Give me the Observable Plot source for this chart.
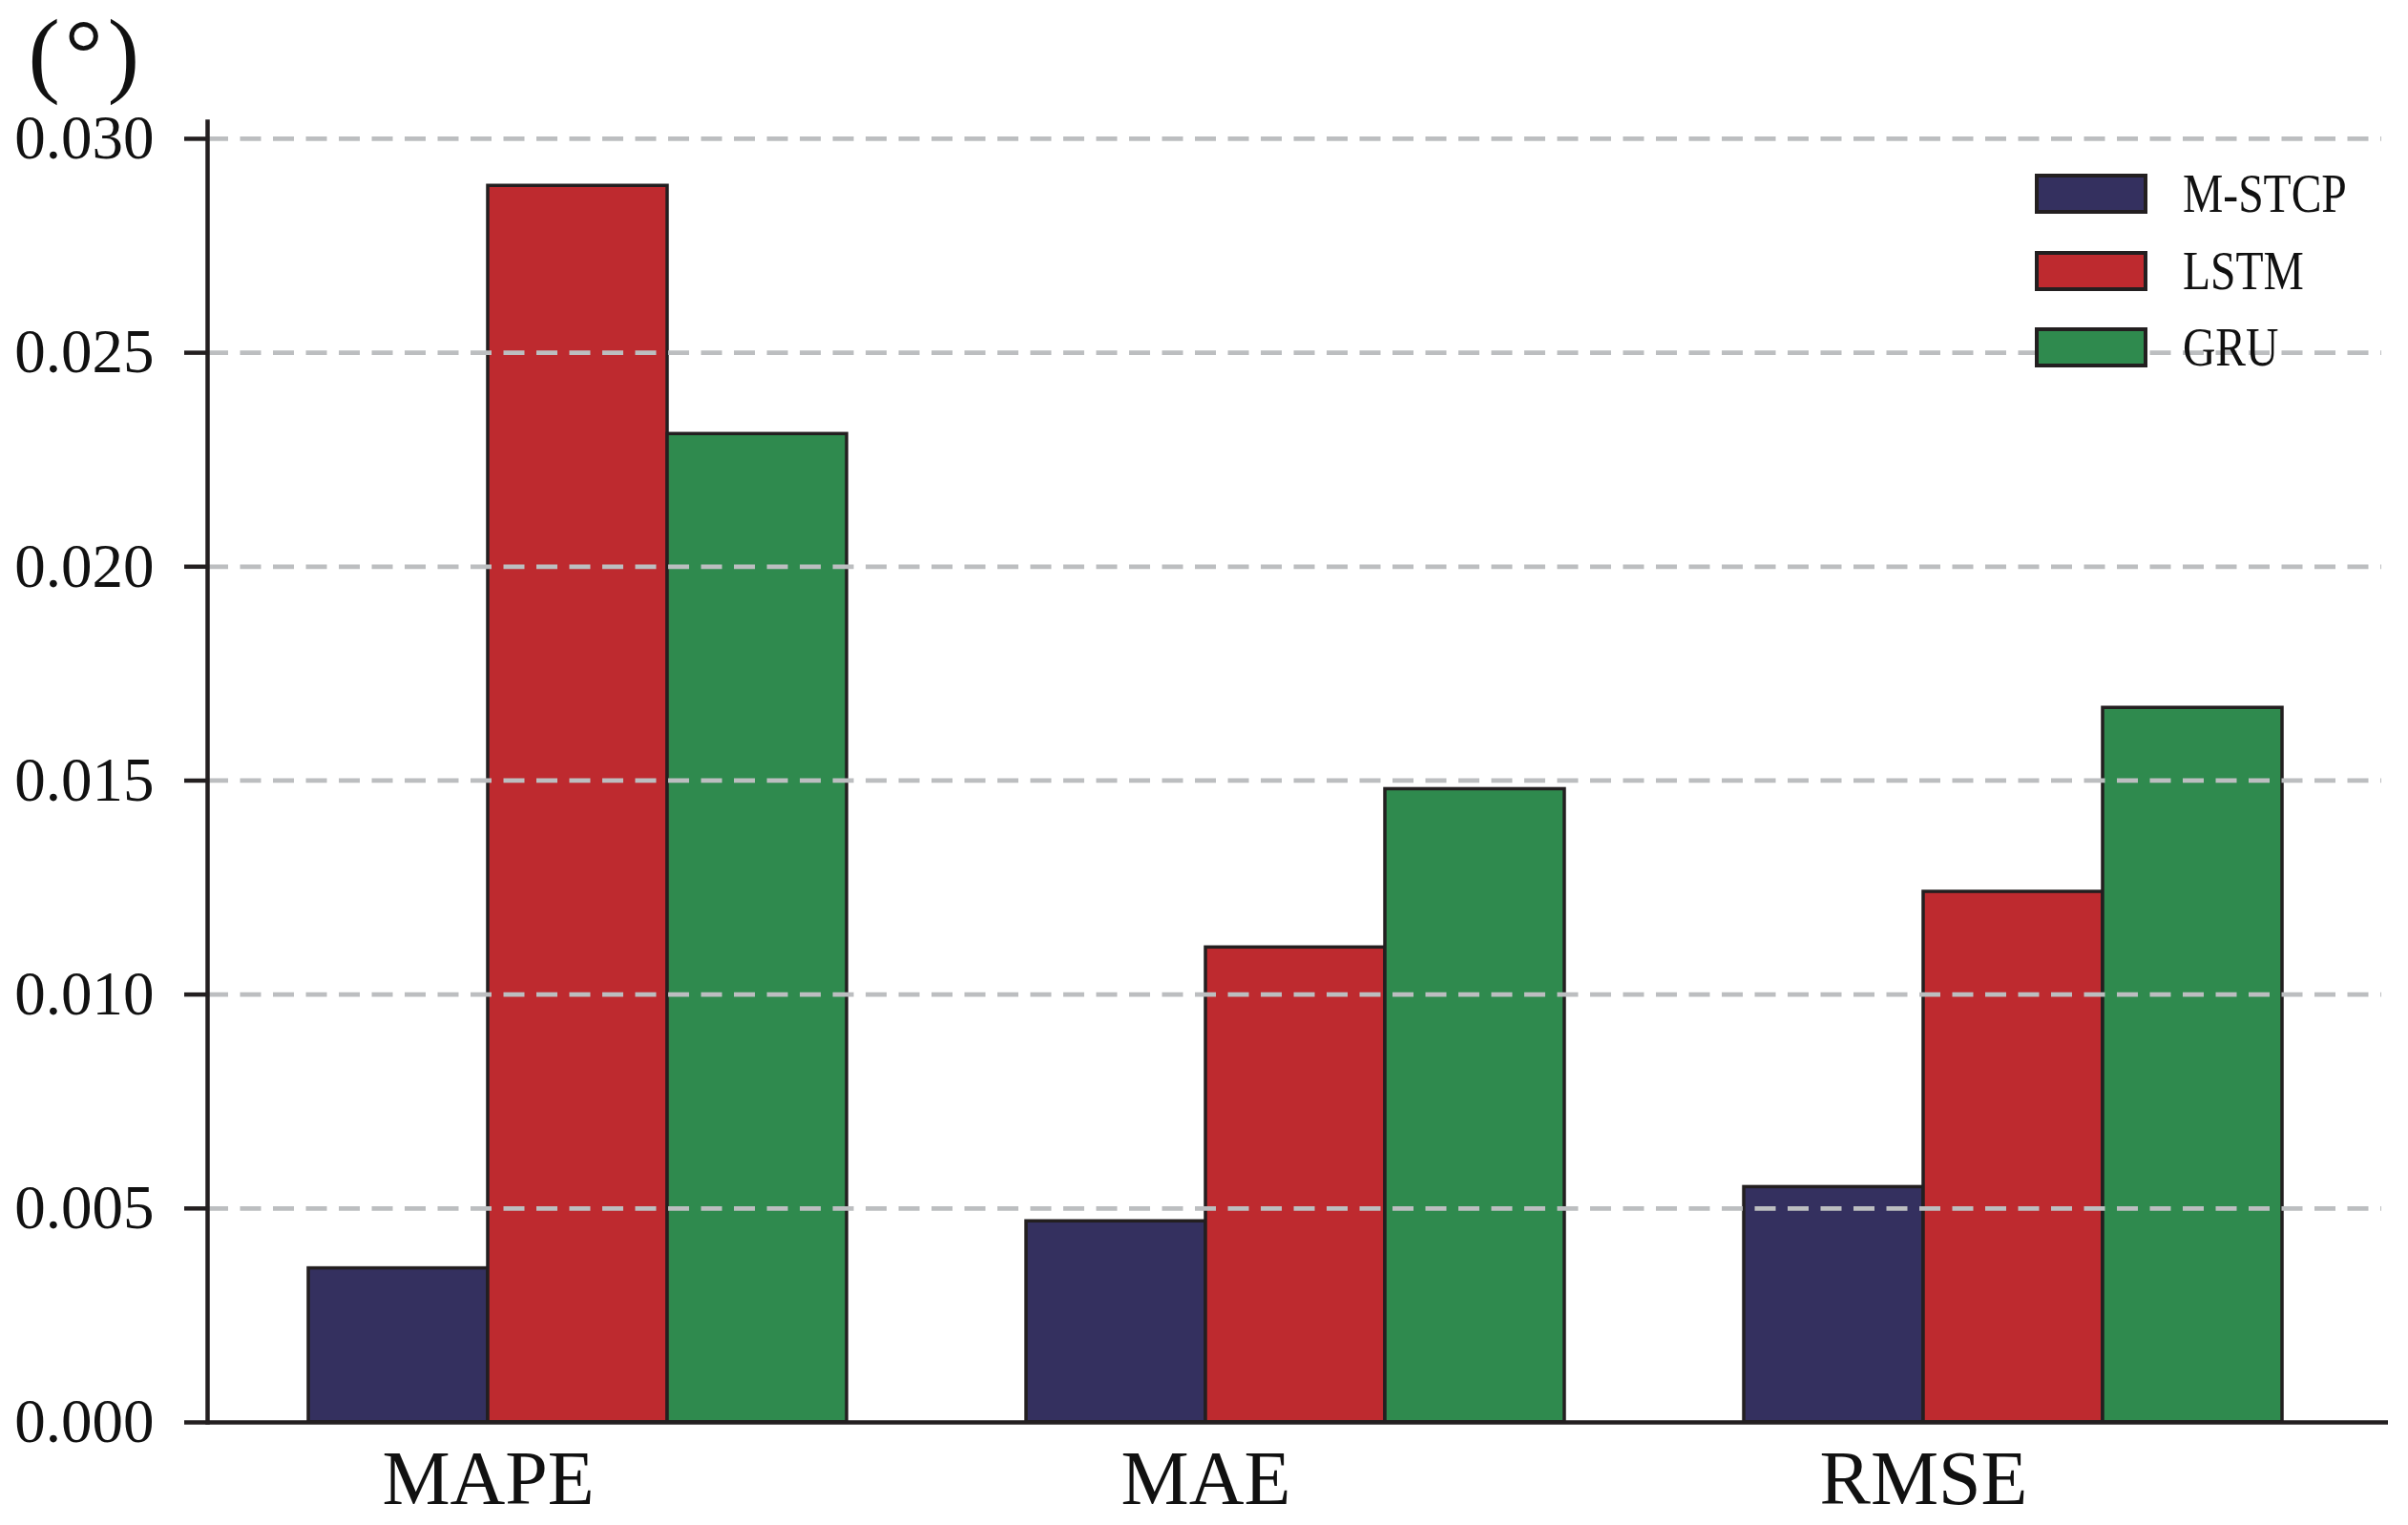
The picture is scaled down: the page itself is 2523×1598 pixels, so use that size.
<!DOCTYPE html>
<html>
<head>
<meta charset="utf-8">
<script src="https://cdn.jsdelivr.net/npm/d3@7"></script>
<script src="https://cdn.jsdelivr.net/npm/@observablehq/plot@0.6"></script>
<style>
  html, body { margin: 0; padding: 0; background: #fff; }
  #wrap { position: relative; width: 2523px; height: 1598px; font-family: "Liberation Serif", "Times New Roman", serif; }
  #legend { position: absolute; left: 2132px; top: 182px; }
  .row { display: flex; align-items: center; height: 42px; margin-bottom: 38.5px; }
  .sw { width: 118px; height: 42px; box-sizing: border-box; border: 4px solid #231F20; }
  .lab { margin-left: 37px; font-size: 58px; line-height: 1; color: #111; transform: scaleX(0.82); transform-origin: left center; white-space: nowrap; }
</style>
</head>
<body>
<div id="wrap"><div id="legend"></div></div>
<script>
// ---- data ----
const metrics = ["MAPE", "MAE", "RMSE"];
const models = ["M-STCP", "LSTM", "GRU"];
const mstcp = [0.0036, 0.0047, 0.0055];
const lstm  = [0.0289, 0.0111, 0.0124];
const gru   = [0.0231, 0.0148, 0.0167];
const yTicks = [0, 0.005, 0.010, 0.015, 0.020, 0.025, 0.030];
const unitLabel = "(°)";
const colors = ["#34305F", "#BE2A2F", "#2F8A4E"];

const series = [mstcp, lstm, gru];
const data = [];
metrics.forEach((m, i) => models.forEach((mod, j) => data.push({metric: m, model: mod, key: m + "|" + mod, value: series[j][i]})));

// composite band domain: bars of each group, with one spacer slot between groups
const xDomain = [];
metrics.forEach((m, i) => {
  if (i > 0) xDomain.push("gap" + i);
  models.forEach(mod => xDomain.push(m + "|" + mod));
});

const ink = "#231F20";

const chart = Plot.plot({
  width: 2523,
  height: 1598,
  marginLeft: 217,
  marginRight: 21,
  marginTop: 127,
  marginBottom: 108,
  style: {fontFamily: "Liberation Serif, Times New Roman, serif", background: "#fff", color: "#111"},
  x: {type: "band", domain: xDomain, paddingInner: 0, paddingOuter: 0.55, align: 0.49, axis: null},
  y: {domain: [0, 0.0304], axis: null},
  color: {domain: models, range: colors},
  marks: [
    Plot.barY(data, {x: "key", y: "value", fill: "model", stroke: ink, strokeWidth: 3.5}),
    Plot.gridY(yTicks.filter(d => d > 0), {stroke: "#BCBEC0", strokeOpacity: 1, strokeWidth: 4.7, strokeDasharray: "22,12.5", insetRight: 7}),
    Plot.ruleY([0], {stroke: ink, strokeWidth: 4.5}),
    Plot.frame({anchor: "left", stroke: ink, strokeWidth: 4.5}),
    Plot.axisY({ticks: yTicks, tickSize: 24, tickPadding: 32, tickFormat: d3.format(".3f"), fontSize: 65, stroke: ink, strokeWidth: 4.5, fill: "#111", label: null}),
    Plot.text(metrics, {x: m => m + "|LSTM", text: m => m, frameAnchor: "bottom", lineAnchor: "bottom", dy: 85, dx: -94, fontSize: 80, fill: "#111"}),
    Plot.text([unitLabel], {text: d => d, frameAnchor: "top-left", textAnchor: "start", lineAnchor: "bottom", dx: -188, dy: -39, fontSize: 100, fill: "#111", className: "unit-label"})
  ]
});
d3.select(chart).selectAll(".unit-label text").style("letter-spacing", "5px");
document.getElementById("wrap").prepend(chart);

// legend
const legend = document.getElementById("legend");
models.forEach((m, i) => {
  const row = document.createElement("div");
  row.className = "row";
  const sw = document.createElement("div");
  sw.className = "sw";
  sw.style.background = colors[i];
  const lab = document.createElement("span");
  lab.className = "lab";
  lab.textContent = m;
  row.append(sw, lab);
  legend.append(row);
});
</script>
</body>
</html>
